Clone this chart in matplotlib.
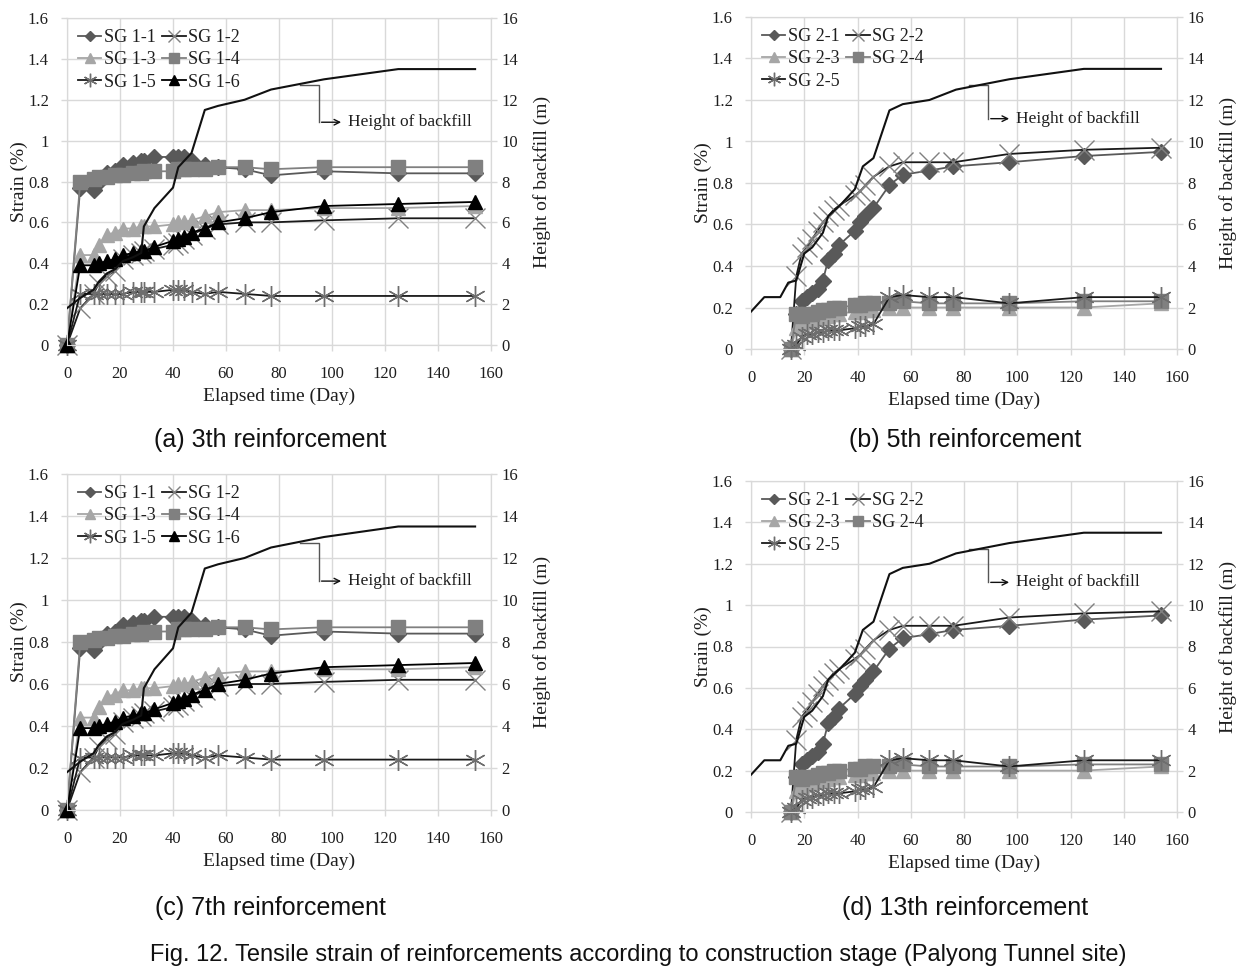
import matplotlib
matplotlib.use('Agg')
import matplotlib.pyplot as plt

# ---- data: panels (a)/(c)  SG 1-x ----
days_a = [0, 5, 10, 12, 15, 18, 21, 25, 28, 29, 33, 40, 42, 44, 47, 52, 57, 67, 77, 97, 125, 154]
sg11 = [0, 0.77, 0.76, 0.80, 0.84, 0.85, 0.88, 0.89, 0.90, 0.90, 0.92, 0.92, 0.92, 0.92, 0.90, 0.88, 0.87, 0.86, 0.83, 0.85, 0.84, 0.84]
sg12 = [0, 0.18, 0.25, 0.30, 0.34, 0.36, 0.42, 0.44, 0.45, 0.46, 0.47, 0.49, 0.50, 0.52, 0.54, 0.57, 0.59, 0.60, 0.60, 0.61, 0.62, 0.62]
sg13 = [0, 0.44, 0.44, 0.49, 0.54, 0.55, 0.57, 0.57, 0.58, 0.58, 0.58, 0.59, 0.60, 0.60, 0.61, 0.63, 0.65, 0.66, 0.66, 0.67, 0.67, 0.68]
sg14 = [0, 0.80, 0.81, 0.82, 0.82, 0.83, 0.83, 0.84, 0.84, 0.85, 0.85, 0.85, 0.86, 0.86, 0.86, 0.86, 0.87, 0.87, 0.86, 0.87, 0.87, 0.87]
sg15 = [0, 0.25, 0.25, 0.25, 0.25, 0.25, 0.25, 0.26, 0.26, 0.26, 0.26, 0.27, 0.27, 0.27, 0.26, 0.25, 0.26, 0.25, 0.24, 0.24, 0.24, 0.24]
sg16 = [0, 0.39, 0.39, 0.40, 0.41, 0.42, 0.44, 0.45, 0.46, 0.46, 0.48, 0.51, 0.52, 0.53, 0.55, 0.57, 0.60, 0.62, 0.65, 0.68, 0.69, 0.70]
fill_days_a = [0, 5, 10, 12, 15, 18, 21, 25, 28, 29, 33, 40, 42, 47, 52, 57, 67, 77, 97, 125, 154]
fill_a = [1.8, 2.3, 2.7, 3.1, 3.5, 3.7, 4.1, 4.3, 4.5, 5.8, 6.7, 7.7, 8.7, 9.4, 11.5, 11.7, 12.0, 12.5, 13.0, 13.5, 13.5]

# ---- data: panels (b)/(d)  SG 2-x ----
days_b = [15, 17, 19, 21, 23, 25, 27, 29, 31, 33, 39, 41, 43, 46, 52, 57, 67, 76, 97, 125, 154]
sg21 = [0, 0.17, 0.23, 0.25, 0.27, 0.29, 0.33, 0.43, 0.46, 0.50, 0.57, 0.61, 0.64, 0.68, 0.79, 0.84, 0.86, 0.88, 0.90, 0.93, 0.95]
sg22 = [0, 0.35, 0.46, 0.49, 0.53, 0.57, 0.61, 0.64, 0.67, 0.69, 0.74, 0.76, 0.79, 0.83, 0.88, 0.90, 0.90, 0.90, 0.94, 0.96, 0.97]
sg23 = [0, 0.10, 0.12, 0.13, 0.14, 0.15, 0.15, 0.16, 0.17, 0.17, 0.18, 0.18, 0.19, 0.19, 0.20, 0.20, 0.20, 0.20, 0.20, 0.20, 0.22]
sg24 = [0, 0.17, 0.16, 0.17, 0.17, 0.18, 0.19, 0.19, 0.20, 0.20, 0.21, 0.21, 0.22, 0.22, 0.22, 0.23, 0.22, 0.22, 0.22, 0.23, 0.23]
sg25 = [0, 0.02, 0.06, 0.07, 0.07, 0.08, 0.08, 0.09, 0.09, 0.09, 0.10, 0.11, 0.11, 0.12, 0.25, 0.26, 0.25, 0.25, 0.22, 0.25, 0.25]
fill_days_b = [0, 5, 11, 14, 17, 20, 23, 27, 29, 34, 39, 42, 46, 52, 57, 67, 77, 97, 125, 154]
fill_b = [1.8, 2.5, 2.5, 3.2, 3.3, 4.6, 4.9, 5.6, 6.4, 7.0, 7.7, 8.8, 9.2, 11.5, 11.8, 12.0, 12.5, 13.0, 13.5, 13.5]

captions = ['(a) 3th reinforcement', '(b) 5th reinforcement',
            '(c) 7th reinforcement', '(d) 13th reinforcement']
fig_title = 'Fig. 12. Tensile strain of reinforcements according to construction stage (Palyong Tunnel site)'

# styles per gauge number (1..6)
styles = {
    1: dict(color='#595959', marker='D', ms=8.5, mfc='#595959', mec='#595959', lw=1.3),
    2: dict(color='#1a1a1a', marker='x', ms=14, mfc='none', mec='#808080', mew=1.0, lw=1.3),
    3: dict(color='#a6a6a6', marker='^', ms=10.5, mfc='#a6a6a6', mec='#a6a6a6', lw=1.3),
    4: dict(color='#808080', marker='s', ms=10.5, mfc='#808080', mec='#808080', lw=1.3),
    5: dict(color='#1a1a1a', marker=(6, 2, 0), ms=15, mfc='none', mec='#6e6e6e', mew=1.0, lw=1.3),
    6: dict(color='#000000', marker='^', ms=10.5, mfc='#000000', mec='#000000', lw=1.3),
}

serif = ['Liberation Serif', 'DejaVu Serif']
sans = ['Liberation Sans Narrow', 'Liberation Sans', 'DejaVu Sans']
grid_c = '#d9d9d9'
txt_c = '#1e1e1e'

fig = plt.figure(figsize=(12.51, 9.77), dpi=100)

# axes rectangles [left, bottom, width, height] in figure fraction
rects = [
    [67 / 1251, 1 - 345 / 977, 424 / 1251, 327 / 977],
    [751 / 1251, 1 - 349 / 977, 426 / 1251, 332 / 977],
    [67 / 1251, 1 - 810 / 977, 424 / 1251, 336 / 977],
    [751 / 1251, 1 - 812 / 977, 426 / 1251, 331 / 977],
]
caption_xy = [(270, 440), (965, 440), (270, 908), (965, 908)]
callout = [(88, 95, 104.5), (82, 89, 98), (88, 95, 104.5), (82, 89, 98)]
callout_y = [(1.272, 1.09), (1.272, 1.11), (1.272, 1.09), (1.272, 1.11)]

for i, rect in enumerate(rects):
    ax = fig.add_axes(rect)
    if i % 2 == 0:
        days = days_a
        series = [(1, 'SG 1-1', sg11), (2, 'SG 1-2', sg12), (3, 'SG 1-3', sg13),
                  (4, 'SG 1-4', sg14), (5, 'SG 1-5', sg15), (6, 'SG 1-6', sg16)]
        fd, fv = fill_days_a, fill_a
        order = [0, 2, 4, 1, 3, 5]
    else:
        days = days_b
        series = [(1, 'SG 2-1', sg21), (2, 'SG 2-2', sg22), (3, 'SG 2-3', sg23),
                  (4, 'SG 2-4', sg24), (5, 'SG 2-5', sg25)]
        fd, fv = fill_days_b, fill_b
        order = [0, 2, 4, 1, 3]

    handles = []
    for k, lab, vals in series:
        st = styles[k]
        h, = ax.plot(days, vals, label=lab, zorder=3 + k * 0.1, clip_on=False, **st)
        handles.append(h)

    ax.set_xlim(0, 160)
    ax.set_ylim(0, 1.6)
    ax.set_xticks(range(0, 161, 20))
    ax.set_yticks([0, 0.2, 0.4, 0.6, 0.8, 1.0, 1.2, 1.4, 1.6])
    ax.set_yticklabels(['0', '0.2', '0.4', '0.6', '0.8', '1', '1.2', '1.4', '1.6'])
    ax.grid(True, color=grid_c, lw=1.0, zorder=0)
    ax.set_axisbelow(True)
    for sp in ax.spines.values():
        sp.set_color(grid_c)
    ax.tick_params(axis='both', colors=grid_c, labelcolor=txt_c, labelsize=12,
                   length=4, width=1)
    ax.tick_params(axis='y', pad=9)
    ax.tick_params(axis='x', pad=11)
    for lbl in ax.get_xticklabels() + ax.get_yticklabels():
        lbl.set_family(serif)
    ax.set_xlabel('Elapsed time (Day)', fontsize=14, family=serif, color=txt_c, labelpad=4)
    ax.set_ylabel('Strain (%)', fontsize=14, family=serif, color=txt_c, labelpad=0)

    ax2 = ax.twinx()
    ax2.plot(fd, fv, color='#111111', lw=1.5, zorder=5)
    ax2.set_ylim(0, 16)
    ax2.set_yticks(range(0, 17, 2))
    for sp in ax2.spines.values():
        sp.set_color(grid_c)
    ax2.tick_params(axis='y', colors=grid_c, labelcolor=txt_c, labelsize=12,
                    length=4, width=1)
    for lbl in ax2.get_yticklabels():
        lbl.set_family(serif)
    ax2.set_ylabel('Height of backfill (m)', fontsize=14, family=serif, color=txt_c, labelpad=11)

    # callout for backfill curve
    x0, xv, xa = callout[i]
    yt, yb = callout_y[i]
    ax.plot([x0, xv, xv], [yt, yt, yb], color='#555555', lw=1.0, zorder=6)
    ax.annotate('', xy=(xa, yb), xytext=(xv, yb),
                arrowprops=dict(arrowstyle='->', color='#111111', lw=1.0), zorder=6)
    ax.text(xa + 1.5, yb, 'Height of backfill', fontsize=12.5, family=serif,
            color=txt_c, va='center', ha='left', zorder=6)

    leg = ax2.legend([handles[j] for j in order], [handles[j].get_label() for j in order],
                     loc='upper left', ncol=2, frameon=False,
                     prop=dict(family=serif, size=13),
                     handlelength=1.3, handletextpad=0.15, columnspacing=0.35,
                     labelspacing=0.3, borderaxespad=0.2, markerscale=0.65)
    for t in leg.get_texts():
        t.set_color(txt_c)

    cx, cy = caption_xy[i]
    fig.text(cx / 1251, 1 - cy / 977, captions[i], ha='center', va='center',
             fontsize=18, family=sans, color='#111111')

fig.text(638 / 1251, 1 - 955 / 977, fig_title, ha='center', va='center',
         fontsize=17, family=sans, color='#111111')

fig.savefig('out.png', dpi=100)
